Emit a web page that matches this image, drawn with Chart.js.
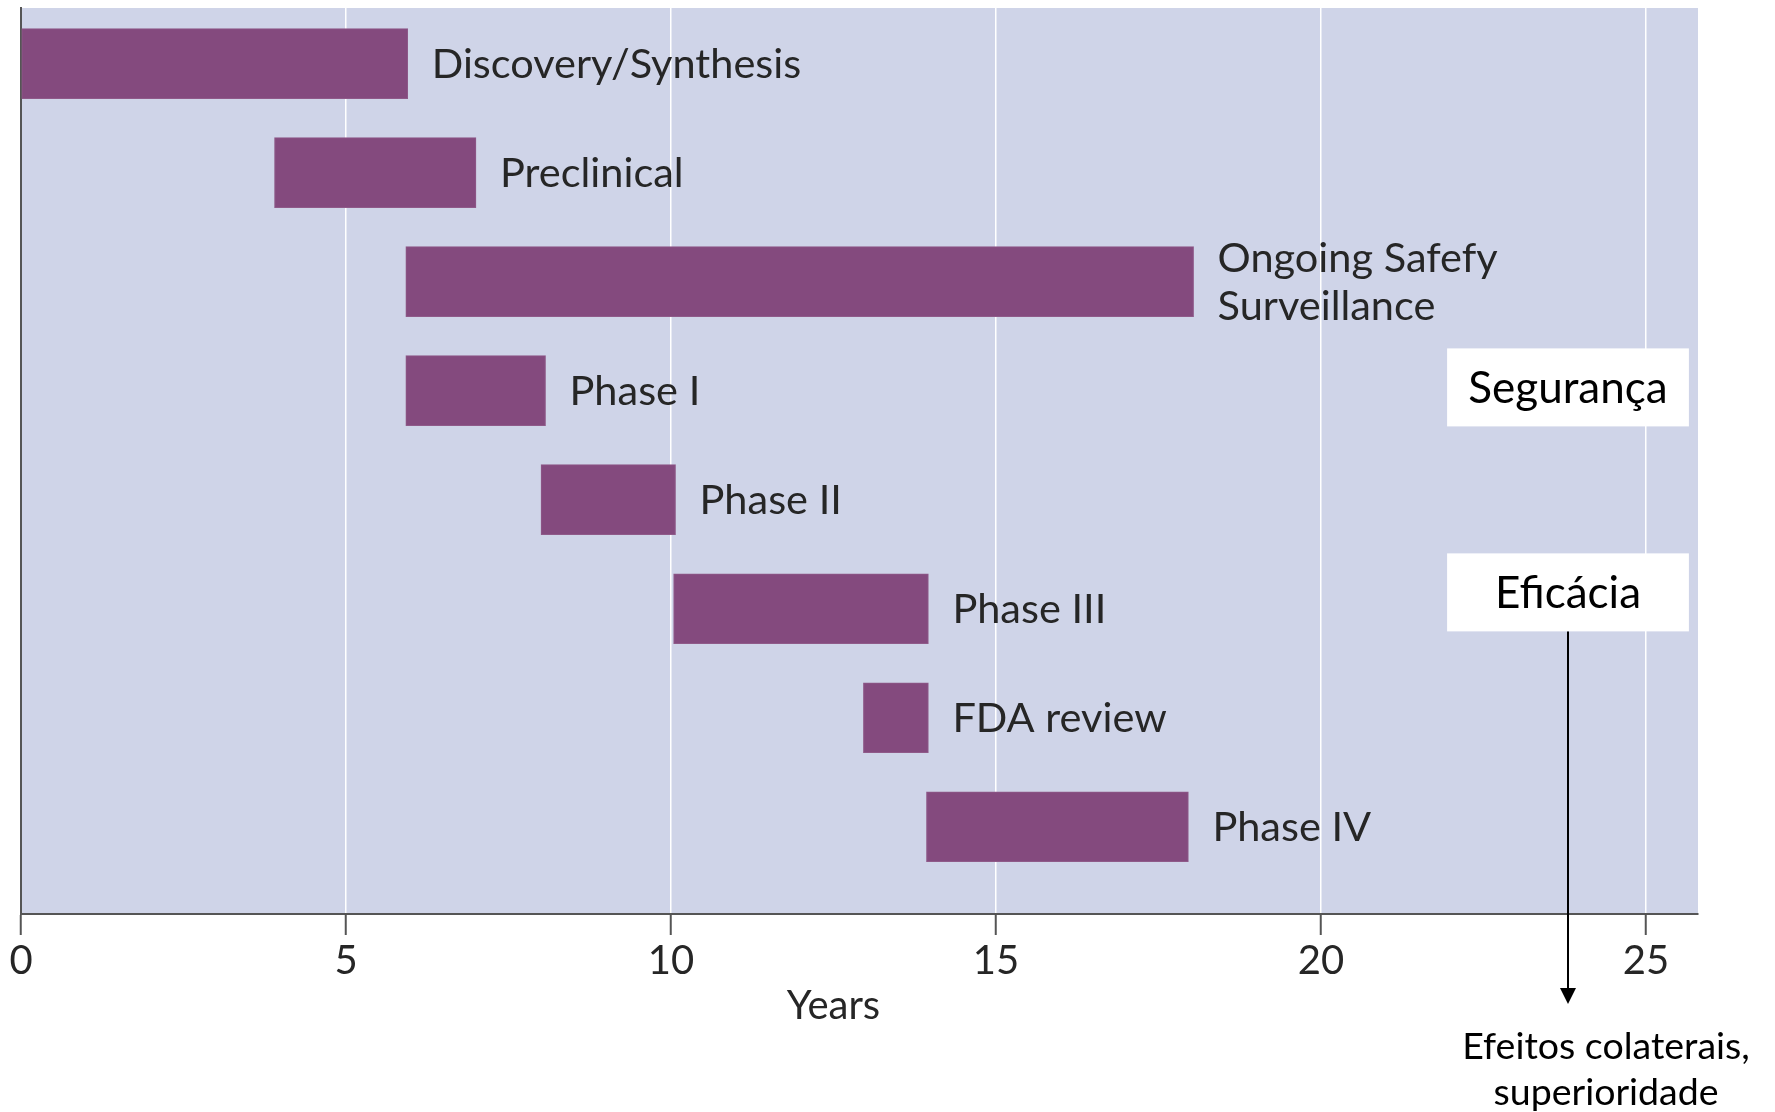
<!DOCTYPE html>
<html>
<head>
<meta charset="utf-8">
<script src="https://cdn.jsdelivr.net/npm/chart.js@4/dist/chart.umd.min.js"></script>
<style>
  html, body { margin: 0; padding: 0; background: #fff; }
  #wrap { width: 1775px; height: 1112px; position: relative; }
</style>
</head>
<body>
<div id="wrap"><canvas id="ganttCanvas"></canvas></div>
<script>
// fases do desenvolvimento de um fármaco (anos)
const fases = ['Discovery/Synthesis', 'Preclinical', ['Ongoing Safefy', 'Surveillance'], 'Phase I', 'Phase II', 'Phase III', 'FDA review', 'Phase IV'];
const inicio = [0, 3.9, 5.92, 5.92, 8.0, 10.04, 12.96, 13.93];
const fim = [5.95, 7.0, 18.04, 8.07, 10.07, 13.96, 13.96, 17.96];
const ticksAnos = [0, 5, 10, 15, 20, 25];
const tituloX = 'Years';
const caixas = ['Segurança', 'Eficácia'];
const notaSeta = ['Efeitos colaterais,', 'superioridade'];

const corBarra = '#844a7e';
const corFundo = '#cfd4e8';
const corTexto = '#262626';
const fonte = 'Lato, "Open Sans", sans-serif';

const dados = fases.map((f, i) => ({ x: [inicio[i], fim[i]], y: i }));

const fundoPlugin = {
    id: 'fundo',
    beforeDraw(chart) {
        const { ctx, chartArea: a } = chart;
        ctx.save();
        ctx.fillStyle = corFundo;
        ctx.fillRect(a.left, a.top, a.right - a.left, a.bottom - a.top);
        ctx.restore();
    }
};

const rotulosPlugin = {
    id: 'rotulos',
    afterDraw(chart) {
        const { ctx } = chart;
        const xS = chart.scales.x, yS = chart.scales.y;
        const meta = chart.getDatasetMeta(0);
        ctx.save();
        ctx.font = '41.5px ' + fonte;
        ctx.fillStyle = corTexto;
        ctx.textBaseline = 'middle';
        ctx.textAlign = 'left';
        meta.data.forEach((bar, i) => {
            const linhas = Array.isArray(fases[i]) ? fases[i] : [fases[i]];
            const alt = 48;
            const y0 = bar.y - (linhas.length - 1) * alt / 2;
            linhas.forEach((t, k) => ctx.fillText(t, bar.x + 24, y0 + 1 + k * alt));
        });

        // titulo do eixo
        ctx.font = '40px ' + fonte;
        ctx.textAlign = 'center';
        ctx.fillText(tituloX, xS.getPixelForValue(12.5), 1006);

        // caixas de anotacao
        const bx0 = xS.getPixelForValue(21.94), bx1 = xS.getPixelForValue(25.66);
        const cx = (bx0 + bx1) / 2;
        const centros = [yS.getPixelForValue(2.97), yS.getPixelForValue(4.85)];
        ctx.font = '44px ' + fonte;
        caixas.forEach((t, i) => {
            ctx.fillStyle = '#ffffff';
            ctx.fillRect(bx0, centros[i] - 39, bx1 - bx0, 78);
            ctx.fillStyle = '#000000';
            ctx.fillText(t, cx, centros[i] + 1);
        });

        // seta
        const yTopo = centros[1] + 39, yPonta = 1004;
        ctx.strokeStyle = '#000';
        ctx.lineWidth = 2;
        ctx.beginPath();
        ctx.moveTo(cx, yTopo);
        ctx.lineTo(cx, yPonta - 14);
        ctx.stroke();
        ctx.fillStyle = '#000';
        ctx.beginPath();
        ctx.moveTo(cx - 8, yPonta - 16);
        ctx.lineTo(cx + 8, yPonta - 16);
        ctx.lineTo(cx, yPonta);
        ctx.closePath();
        ctx.fill();

        ctx.font = '37.5px ' + fonte;
        ctx.fillText(notaSeta[0], 1606, 1047);
        ctx.fillText(notaSeta[1], 1606, 1093);
        ctx.restore();
    }
};

const ctx = document.getElementById('ganttCanvas').getContext('2d');
new Chart(ctx, {
    type: 'bar',
    data: {
        datasets: [{
            data: dados,
            backgroundColor: corBarra,
            borderColor: '#8f5a89',
            borderWidth: 1,
            borderSkipped: false,
            barThickness: 70
        }]
    },
    options: {
        indexAxis: 'y',
        responsive: true,
        maintainAspectRatio: false,
        animation: false,
        layout: { padding: { left: 13, right: 77, top: 8, bottom: 125 } },
        plugins: { legend: { display: false }, tooltip: { enabled: false } },
        scales: {
            x: {
                type: 'linear',
                min: 0,
                max: 25.8,
                afterBuildTicks: axis => { axis.ticks = ticksAnos.map(v => ({ value: v })); },
                ticks: { font: { family: fonte, size: 40 }, color: corTexto, padding: 2, maxRotation: 0 },
                grid: {
                    color: c => (c.tick && c.tick.value === 0) ? 'rgba(0,0,0,0)' : '#ffffff',
                    lineWidth: 1.5,
                    tickColor: '#555555',
                    tickWidth: 2,
                    tickLength: 21
                },
                border: { display: true, color: '#555555', width: 2 }
            },
            y: {
                type: 'linear',
                reverse: true,
                offset: false,
                min: -0.51,
                max: 7.8,
                ticks: { display: false },
                grid: { display: false, offset: false },
                border: { display: true, color: '#555555', width: 2 }
            }
        }
    },
    plugins: [fundoPlugin, rotulosPlugin]
});
</script>
</body>
</html>
